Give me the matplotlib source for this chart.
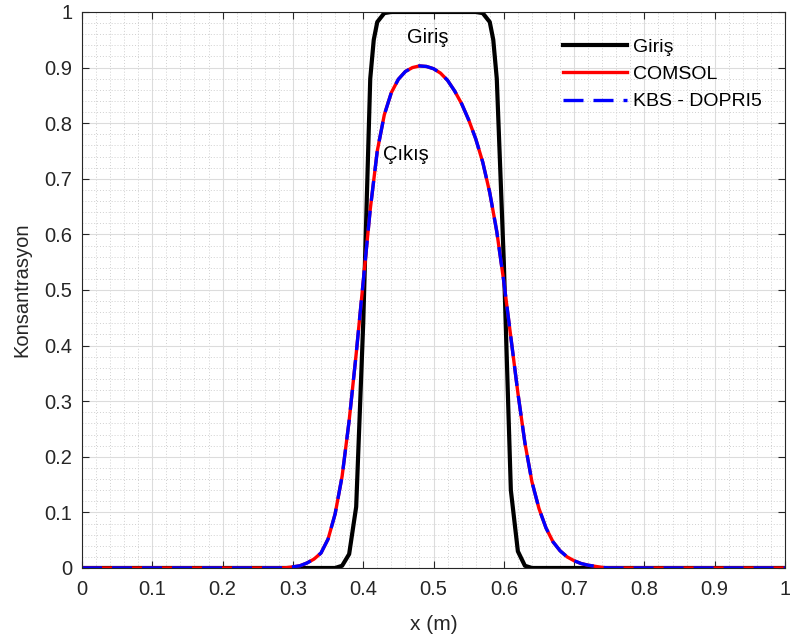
import numpy as np
import matplotlib.pyplot as plt
from matplotlib.ticker import MultipleLocator

plt.rcParams['font.family'] = ['Liberation Sans', 'DejaVu Sans']

# Giriş (input pulse)
x_giris = [0.0, 0.36, 0.37, 0.38, 0.39, 0.40, 0.41, 0.415, 0.42, 0.43, 0.44,
           0.56, 0.57, 0.58, 0.585, 0.59, 0.60, 0.61, 0.62, 0.63, 0.64, 1.0]
c_giris = [0.0, 0.0, 0.004, 0.025, 0.11, 0.44, 0.88, 0.95, 0.982, 0.998, 1.0,
           1.0, 0.998, 0.982, 0.95, 0.88, 0.55, 0.14, 0.03, 0.004, 0.0, 0.0]

# Çıkış - COMSOL
x_out = [0.0, 0.28, 0.29, 0.30, 0.31, 0.32, 0.33, 0.34, 0.35, 0.36, 0.37,
         0.38, 0.39, 0.40, 0.41, 0.42, 0.43, 0.44, 0.45, 0.46, 0.47,
         0.48, 0.49, 0.50, 0.51, 0.52, 0.53, 0.54, 0.55, 0.56, 0.57,
         0.58, 0.59, 0.60, 0.61, 0.62, 0.63, 0.64, 0.65, 0.66, 0.67,
         0.68, 0.69, 0.70, 0.71, 0.72, 0.73, 0.74, 0.75, 1.0]
c_comsol = [0.0, 0.0, 0.0005, 0.002, 0.004, 0.009, 0.016, 0.027, 0.052, 0.097, 0.165,
            0.265, 0.385, 0.515, 0.645, 0.75, 0.815, 0.855, 0.879, 0.893, 0.90,
            0.903, 0.902, 0.898, 0.89, 0.877, 0.858, 0.835, 0.806, 0.772, 0.73,
            0.675, 0.605, 0.515, 0.415, 0.315, 0.225, 0.155, 0.107, 0.072, 0.047,
            0.031, 0.02, 0.013, 0.008, 0.005, 0.003, 0.001, 0.0, 0.0]

# Çıkış - KBS - DOPRI5
c_kbs = [0.0, 0.0, 0.0005, 0.002, 0.004, 0.009, 0.016, 0.027, 0.052, 0.097, 0.165,
         0.265, 0.385, 0.515, 0.645, 0.75, 0.815, 0.855, 0.879, 0.893, 0.90,
         0.903, 0.902, 0.898, 0.89, 0.877, 0.858, 0.835, 0.806, 0.772, 0.73,
         0.675, 0.605, 0.515, 0.415, 0.315, 0.225, 0.155, 0.107, 0.072, 0.047,
         0.031, 0.02, 0.013, 0.008, 0.005, 0.003, 0.001, 0.0, 0.0]

fig = plt.figure(figsize=(7.9, 6.41), dpi=100)
ax = fig.add_axes([0.1038, 0.1139, 0.8899, 0.8674])

ax.plot(x_giris, c_giris, color='black', lw=3.0, label='Giriş')
ax.plot(x_out, c_comsol, color='red', lw=2.4, label='COMSOL')
ax.plot(x_out, c_kbs, color='blue', lw=2.4, dashes=(6, 3), label='KBS - DOPRI5')

ax.set_xlim(0, 1)
ax.set_ylim(0, 1)
ax.xaxis.set_major_locator(MultipleLocator(0.1))
ax.yaxis.set_major_locator(MultipleLocator(0.1))
ax.xaxis.set_minor_locator(MultipleLocator(0.02))
ax.yaxis.set_minor_locator(MultipleLocator(0.02))
ax.xaxis.set_major_formatter(plt.FuncFormatter(lambda v, p: f'{v:g}'))
ax.yaxis.set_major_formatter(plt.FuncFormatter(lambda v, p: f'{v:g}'))

ax.grid(which='major', color='#dcdcdc', lw=0.8, ls='-')
ax.grid(which='minor', color='#d0d0d0', lw=0.7, ls=(0, (1, 2)))
ax.set_axisbelow(True)

ax.tick_params(which='both', direction='in', top=True, right=True,
               labelsize=14.5, colors='#262626')
ax.tick_params(which='major', length=5, width=0.8)
ax.tick_params(axis='x', which='major', pad=9)
ax.tick_params(axis='y', which='major', pad=7)
ax.tick_params(which='minor', length=0)
for s in ax.spines.values():
    s.set_color('#262626')
    s.set_linewidth(0.8)

ax.set_xlabel('x (m)', fontsize=15, color='#262626', labelpad=11)
ax.set_ylabel('Konsantrasyon', fontsize=14.5, color='#262626', labelpad=9)

ax.text(0.492, 0.955, 'Giriş', fontsize=14.5, ha='center', va='center')
ax.text(0.461, 0.743, 'Çıkış', fontsize=14.5, ha='center', va='center')

ax.legend(loc='upper left', bbox_to_anchor=(0.684, 0.953), frameon=False,
          fontsize=14, handlelength=3.3, handletextpad=0.3,
          labelspacing=0.5, borderpad=0, borderaxespad=0)

fig.savefig('out.png', dpi=100)
